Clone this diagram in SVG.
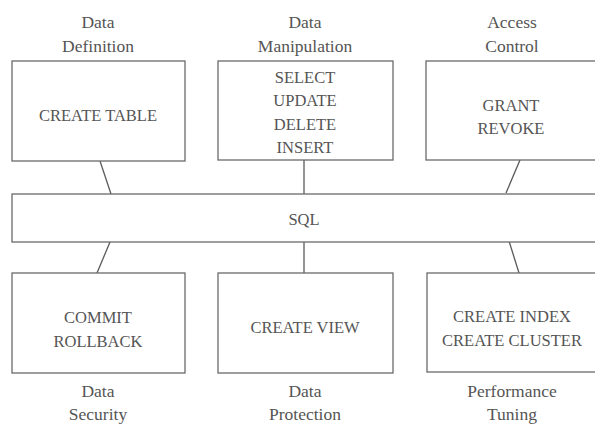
<svg xmlns="http://www.w3.org/2000/svg" width="595" height="424" viewBox="0 0 595 424">
<style>
.box{fill:#fff;stroke:#6a6a6a;stroke-width:1.3}
.ln{stroke:#5a5a5a;stroke-width:1.3;fill:none}
.t{font-family:"Liberation Serif",serif;font-size:16.5px;fill:#555;text-anchor:middle}
.l{font-family:"Liberation Serif",serif;font-size:17.5px;fill:#555;text-anchor:middle}
</style>
<rect width="595" height="424" fill="#fff"/>
<g id="connectors">
<line class="ln" x1="100" y1="161" x2="111" y2="194"/>
<line class="ln" x1="304" y1="160" x2="304" y2="194"/>
<line class="ln" x1="520" y1="160" x2="506" y2="193"/>
<line class="ln" x1="110" y1="242" x2="97" y2="273"/>
<line class="ln" x1="304" y1="242" x2="304" y2="273"/>
<line class="ln" x1="509" y1="241" x2="519" y2="273"/>
</g>
<g id="sql">
<rect class="box" x="12" y="194" width="600" height="48"/>
<text class="t" x="304" y="225">SQL</text>
</g>
<g id="data-definition">
<text class="l" x="98" y="28">Data</text>
<text class="l" x="98" y="52">Definition</text>
<rect class="box" x="12" y="61" width="173" height="100"/>
<text class="t" x="98" y="121">CREATE TABLE</text>
</g>
<g id="data-manipulation">
<text class="l" x="305" y="28">Data</text>
<text class="l" x="305" y="52">Manipulation</text>
<rect class="box" x="218" y="61" width="175" height="99"/>
<text class="t" x="305" y="83">SELECT</text>
<text class="t" x="305" y="106">UPDATE</text>
<text class="t" x="305" y="130">DELETE</text>
<text class="t" x="305" y="153">INSERT</text>
</g>
<g id="access-control">
<text class="l" x="512" y="28">Access</text>
<text class="l" x="512" y="52">Control</text>
<rect class="box" x="426" y="61" width="180" height="99"/>
<text class="t" x="511" y="111">GRANT</text>
<text class="t" x="511" y="134">REVOKE</text>
</g>
<g id="data-security">
<rect class="box" x="12" y="273" width="173" height="100"/>
<text class="t" x="98" y="323">COMMIT</text>
<text class="t" x="98" y="347">ROLLBACK</text>
<text class="l" x="98" y="397">Data</text>
<text class="l" x="98" y="420">Security</text>
</g>
<g id="data-protection">
<rect class="box" x="218" y="273" width="175" height="100"/>
<text class="t" x="305" y="333">CREATE VIEW</text>
<text class="l" x="305" y="397">Data</text>
<text class="l" x="305" y="420">Protection</text>
</g>
<g id="performance-tuning">
<rect class="box" x="427" y="273" width="180" height="99"/>
<text class="t" x="512" y="322">CREATE INDEX</text>
<text class="t" x="512" y="346">CREATE CLUSTER</text>
<text class="l" x="512" y="397">Performance</text>
<text class="l" x="512" y="420">Tuning</text>
</g>
</svg>
